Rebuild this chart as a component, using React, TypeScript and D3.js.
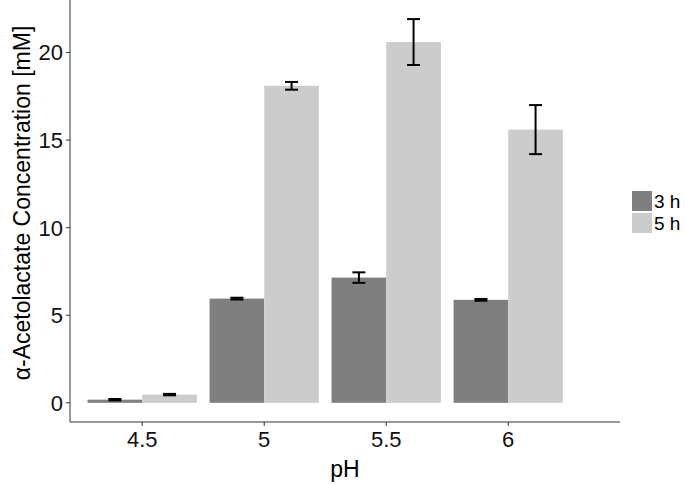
import { useEffect, useRef } from "react"
import * as d3 from "d3"

const phLevels = [4.5, 5, 5.5, 6]
const seriesNames = ["3 h", "5 h"]
const means3h = [0.18, 5.95, 7.15, 5.88]
const err3h = [0.04, 0.05, 0.3, 0.05]
const means5h = [0.47, 18.1, 20.6, 15.6]
const err5h = [0.04, 0.22, 1.31, 1.4]
const yTicks = [0, 5, 10, 15, 20]
const colors = ["#7f7f7f", "#cccccc"]

export default function App() {
  const svgRef = useRef<SVGSVGElement>(null)

  useEffect(() => {
    if (!svgRef.current) return
    const left = 70
    const right = 620
    const top = 0
    const bottom = 422

    const svg = d3.select(svgRef.current)
    svg.selectAll("*").remove()

    const x = d3.scaleLinear().domain([4.204, 6.458]).range([left, right])
    const y = d3.scaleLinear().domain([-1.095, 23.0]).range([bottom, top])
    const barW = 0.224

    const rows = phLevels.flatMap((ph, i) => [
      { ph, s: 0, mean: means3h[i], err: err3h[i] },
      { ph, s: 1, mean: means5h[i], err: err5h[i] },
    ])

    const plot = svg.append("g")

    // bars
    plot
      .selectAll("rect")
      .data(rows)
      .join("rect")
      .attr("x", (d) => x(d.ph + (d.s === 0 ? -barW : 0)))
      .attr("width", (d) => x(d.ph + barW) - x(d.ph))
      .attr("y", (d) => y(d.mean))
      .attr("height", (d) => y(0) - y(d.mean))
      .attr("fill", (d) => colors[d.s])

    // error bars
    const cap = 6.5
    const eb = plot.selectAll("g.eb").data(rows).join("g").attr("class", "eb")
    eb.each(function (d) {
      const g = d3.select(this)
      const cx = x(d.ph + (d.s === 0 ? -barW / 2 : barW / 2))
      const y1 = y(d.mean + d.err)
      const y2 = y(d.mean - d.err)
      g.append("line").attr("x1", cx).attr("x2", cx).attr("y1", y1).attr("y2", y2)
      g.append("line").attr("x1", cx - cap).attr("x2", cx + cap).attr("y1", y1).attr("y2", y1)
      g.append("line").attr("x1", cx - cap).attr("x2", cx + cap).attr("y1", y2).attr("y2", y2)
    })
    eb.selectAll("line").attr("stroke", "#000").attr("stroke-width", 2)

    // axes
    const axisColor = "#333333"
    svg
      .append("line")
      .attr("x1", left)
      .attr("x2", left)
      .attr("y1", top)
      .attr("y2", bottom)
      .attr("stroke", axisColor)
    svg
      .append("line")
      .attr("x1", left)
      .attr("x2", right)
      .attr("y1", bottom)
      .attr("y2", bottom)
      .attr("stroke", axisColor)

    const yt = svg.append("g")
    yTicks.forEach((t) => {
      yt.append("line")
        .attr("x1", left - 4)
        .attr("x2", left)
        .attr("y1", y(t))
        .attr("y2", y(t))
        .attr("stroke", axisColor)
      yt.append("text")
        .attr("x", left - 7)
        .attr("y", y(t))
        .attr("dy", "0.36em")
        .attr("text-anchor", "end")
        .style("font-size", "22px")
        .style("fill", "#111")
        .text(t)
    })

    const xt = svg.append("g")
    phLevels.forEach((p) => {
      xt.append("line")
        .attr("x1", x(p))
        .attr("x2", x(p))
        .attr("y1", bottom)
        .attr("y2", bottom + 4)
        .attr("stroke", axisColor)
      xt.append("text")
        .attr("x", x(p))
        .attr("y", 447)
        .attr("text-anchor", "middle")
        .style("font-size", "22px")
        .style("fill", "#111")
        .text(p)
    })

    svg
      .append("text")
      .attr("x", (left + right) / 2)
      .attr("y", 477)
      .attr("text-anchor", "middle")
      .style("font-size", "23px")
      .text("pH")

    svg
      .append("text")
      .attr("transform", `translate(30, 203) rotate(-90)`)
      .attr("text-anchor", "middle")
      .style("font-size", "23px")
      .text("α-Acetolactate Concentration [mM]")

    // legend
    const lg = svg.append("g").attr("transform", "translate(632, 191)")
    seriesNames.forEach((name, i) => {
      lg.append("rect")
        .attr("x", 0)
        .attr("y", i * 22)
        .attr("width", 20)
        .attr("height", 20)
        .attr("fill", colors[i])
      lg.append("text")
        .attr("x", 22)
        .attr("y", i * 22 + 10)
        .attr("dy", "0.36em")
        .style("font-size", "19px")
        .text(name)
    })
  }, [])

  return (
    <svg
      ref={svgRef}
      width={685}
      height={484}
      style={{ position: "absolute", left: 0, top: 0, fontFamily: "'Liberation Sans', Arial, sans-serif", background: "#fff" }}
    ></svg>
  )
}
